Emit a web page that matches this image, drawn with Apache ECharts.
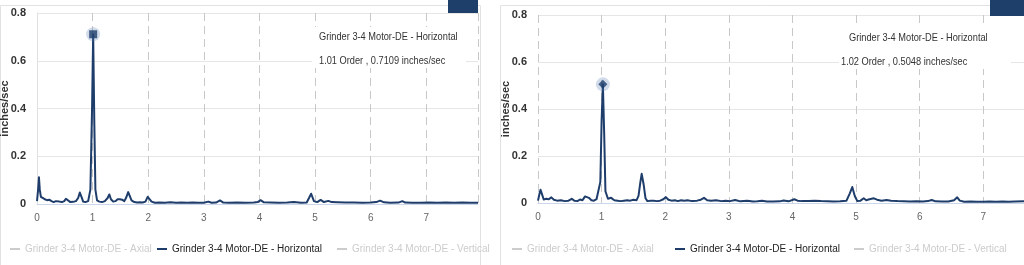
<!DOCTYPE html>
<html><head><meta charset="utf-8">
<script src="https://cdn.jsdelivr.net/npm/echarts@6/dist/echarts.min.js"></script>
<style>html,body{margin:0;padding:0;background:#fff}#c{width:1024px;height:265px}</style>
</head><body><div id="c"></div>
<script>
// ---- data ----
const seriesNames = ['Grinder 3-4 Motor-DE - Axial', 'Grinder 3-4 Motor-DE - Horizontal', 'Grinder 3-4 Motor-DE - Vertical'];
const yTicks = [0, 0.2, 0.4, 0.6, 0.8];
const xTickLabels = ['0', '1', '2', '3', '4', '5', '6', '7'];
const yAxisTitle = 'inches/sec';

// Left panel spectrum (order, inches/sec)
const leftOrders = [0.00,0.02,0.035,0.05,0.07,0.10,0.14,0.18,0.22,0.26,0.30,0.34,0.37,0.40,0.45,0.49,0.52,0.55,0.60,0.65,0.70,0.74,0.77,0.80,0.83,0.87,0.92,0.96,0.99,1.01,1.03,1.05,1.08,1.12,1.17,1.22,1.27,1.30,1.33,1.37,1.41,1.45,1.49,1.53,1.57,1.60,1.64,1.67,1.70,1.75,1.80,1.85,1.90,1.95,1.99,2.02,2.06,2.12,2.2,2.3,2.4,2.5,2.6,2.7,2.8,2.9,3.0,3.08,3.14,3.22,3.29,3.35,3.45,3.6,3.75,3.9,3.97,4.02,4.08,4.2,4.35,4.5,4.62,4.75,4.85,4.93,4.98,5.04,5.1,5.16,5.24,5.3,5.4,5.55,5.7,5.85,6.0,6.1,6.17,6.24,6.35,6.5,6.57,6.62,6.75,6.9,7.05,7.2,7.35,7.5,7.65,7.8,7.93];
const leftValues = [0.012,0.06,0.112,0.06,0.03,0.022,0.02,0.016,0.018,0.012,0.008,0.012,0.015,0.01,0.008,0.012,0.022,0.015,0.008,0.009,0.012,0.025,0.048,0.03,0.01,0.008,0.012,0.06,0.4,0.7109,0.35,0.06,0.015,0.01,0.008,0.012,0.025,0.04,0.02,0.01,0.012,0.02,0.02,0.018,0.012,0.025,0.05,0.045,0.015,0.008,0.006,0.007,0.006,0.01,0.03,0.025,0.01,0.005,0.006,0.005,0.007,0.005,0.006,0.005,0.006,0.005,0.005,0.01,0.005,0.006,0.015,0.006,0.005,0.006,0.005,0.006,0.008,0.016,0.007,0.006,0.005,0.006,0.008,0.005,0.006,0.043,0.012,0.008,0.017,0.008,0.013,0.008,0.007,0.006,0.006,0.005,0.006,0.008,0.014,0.007,0.005,0.006,0.012,0.006,0.005,0.005,0.006,0.005,0.006,0.005,0.006,0.005,0.005];
const leftPeak = [1.01, 0.7109];
const leftNote = ['Grinder 3-4 Motor-DE - Horizontal', '1.01 Order , 0.7109 inches/sec'];

// Right panel spectrum
const rightOrders = [0.00,0.02,0.04,0.06,0.09,0.13,0.17,0.21,0.25,0.30,0.36,0.42,0.48,0.53,0.57,0.62,0.66,0.70,0.74,0.77,0.80,0.84,0.88,0.92,0.95,0.98,1.00,1.02,1.04,1.06,1.10,1.15,1.20,1.25,1.30,1.35,1.40,1.45,1.50,1.55,1.58,1.61,1.63,1.66,1.69,1.72,1.77,1.82,1.87,1.92,1.97,2.01,2.05,2.10,2.15,2.2,2.25,2.3,2.35,2.42,2.5,2.56,2.61,2.66,2.72,2.8,2.88,2.95,3.02,3.1,3.18,3.29,3.38,3.45,3.52,3.6,3.7,3.8,3.86,3.94,4.03,4.08,4.15,4.25,4.35,4.45,4.55,4.65,4.75,4.85,4.90,4.94,4.98,5.02,5.07,5.12,5.16,5.21,5.28,5.33,5.4,5.48,5.55,5.65,5.75,5.85,5.95,6.05,6.13,6.19,6.25,6.35,6.45,6.54,6.59,6.63,6.7,6.8,6.9,7.0,7.1,7.2,7.3,7.4,7.5,7.64];
const rightValues = [0.01,0.035,0.056,0.04,0.015,0.018,0.016,0.024,0.014,0.01,0.012,0.008,0.01,0.018,0.01,0.008,0.015,0.012,0.028,0.035,0.022,0.012,0.01,0.016,0.012,0.09,0.35,0.5048,0.3,0.05,0.018,0.022,0.012,0.01,0.008,0.01,0.012,0.01,0.014,0.012,0.03,0.09,0.124,0.08,0.02,0.008,0.01,0.01,0.008,0.01,0.016,0.025,0.014,0.01,0.012,0.008,0.012,0.01,0.012,0.008,0.01,0.014,0.022,0.012,0.01,0.012,0.008,0.01,0.008,0.013,0.007,0.01,0.006,0.007,0.01,0.006,0.006,0.007,0.011,0.007,0.016,0.01,0.008,0.009,0.01,0.008,0.007,0.006,0.007,0.01,0.04,0.068,0.03,0.008,0.01,0.02,0.012,0.016,0.02,0.014,0.01,0.013,0.01,0.008,0.007,0.006,0.007,0.006,0.008,0.013,0.007,0.006,0.006,0.012,0.024,0.01,0.005,0.006,0.005,0.005,0.006,0.005,0.006,0.005,0.006,0.007];
const rightPeak = [1.02, 0.5048];
const rightNote = ['Grinder 3-4 Motor-DE - Horizontal', '1.02 Order , 0.5048 inches/sec'];

// ---- styles ----
const NAVY = '#1e3d6b';
const FONT = "'Liberation Sans',Arial,sans-serif";

const pairs = (xs, ys) => xs.map((x, i) => [x, ys[i]]);

function xAxisFor(gi, max) {
  return {
    type: 'value', gridIndex: gi, min: 0, max: max, interval: 1,
    axisLine: {show: true, lineStyle: {color: '#ccd6eb', width: 1}},
    axisTick: {show: false},
    axisLabel: {show: true, color: '#666', fontSize: 10, fontFamily: FONT, margin: 9, showMaxLabel: false,
      formatter: v => (Number.isInteger(v) && xTickLabels[v] !== undefined) ? xTickLabels[v] : ''},
    splitLine: {show: true, lineStyle: {color: '#c8c8c8', type: [8, 5], width: 1}}
  };
}
function yAxisFor(gi, showLine) {
  return {
    type: 'value', gridIndex: gi, min: yTicks[0], max: yTicks[yTicks.length - 1], interval: 0.2,
    name: yAxisTitle, nameLocation: 'middle', nameGap: 27, nameRotate: 90, nameMoveOverlap: false,
    nameTextStyle: {color: '#333', fontSize: 11, fontWeight: 'bold', fontFamily: FONT},
    axisLine: {show: showLine, lineStyle: {color: '#e0e0e0'}},
    axisTick: {show: false},
    axisLabel: {color: '#333', fontSize: 11, fontWeight: 'bold', fontFamily: FONT, margin: 11},
    splitLine: {show: true, lineStyle: {color: '#e6e6e6', width: 1}}
  };
}
function lineSeries(name, gi, data) {
  return {
    name: name, type: 'line', xAxisIndex: gi, yAxisIndex: gi, data: data,
    showSymbol: false, symbol: 'none', smooth: false, animation: false,
    lineStyle: {color: NAVY, width: 2, join: 'round'}, itemStyle: {color: NAVY}, z: 3
  };
}
function legendFor(name, left) {
  return {
    data: [name], left: left, top: 244, padding: 0, itemWidth: 10, itemHeight: 2, icon: 'rect',
    inactiveColor: '#cccccc',
    selected: {[seriesNames[0]]: false, [seriesNames[1]]: true, [seriesNames[2]]: false},
    textStyle: {color: '#222', fontSize: 10, fontWeight: 'normal', fontFamily: FONT}
  };
}
function noteGraphic(x0, y0, x1, x2, lines, boxW) {
  return [
    {type: 'rect', left: x0, top: y0, shape: {width: boxW, height: 41}, style: {fill: '#fff'}, z: 10},
    {type: 'text', x: x1, y: y0 + 4, scaleX: 0.84, style: {text: lines[0], fill: '#333', font: '11px ' + FONT}, z: 11},
    {type: 'text', x: x2, y: y0 + 28, scaleX: 0.84, style: {text: lines[1], fill: '#333', font: '11px ' + FONT}, z: 11}
  ];
}

const option = {
  animation: false,
  grid: [
    {left: 37, top: 13, width: 441, bottom: 61, containLabel: false, outerBoundsMode: 'none'},
    {left: 538, top: 15, right: 0, bottom: 62, containLabel: false, outerBoundsMode: 'none'}
  ],
  xAxis: [xAxisFor(0, 7.93), xAxisFor(1, 7.64)],
  yAxis: [yAxisFor(0, true), yAxisFor(1, false)],
  legend: [
    legendFor(seriesNames[0], 10), legendFor(seriesNames[1], 157), legendFor(seriesNames[2], 337),
    legendFor(seriesNames[0], 512), legendFor(seriesNames[1], 675), legendFor(seriesNames[2], 854)
  ],
  series: [
    lineSeries(seriesNames[0], 0, []),
    lineSeries(seriesNames[1], 0, pairs(leftOrders, leftValues)),
    lineSeries(seriesNames[2], 0, []),
    lineSeries(seriesNames[0], 1, []),
    lineSeries(seriesNames[1], 1, pairs(rightOrders, rightValues)),
    lineSeries(seriesNames[2], 1, []),
    {type: 'scatter', name: 'haloL', xAxisIndex: 0, yAxisIndex: 0, data: [leftPeak], symbol: 'circle', symbolSize: 14,
     itemStyle: {color: 'rgba(90,125,175,0.35)'}, z: 4, silent: true},
    {type: 'scatter', name: 'markL', xAxisIndex: 0, yAxisIndex: 0, data: [leftPeak], symbol: 'rect', symbolSize: 8,
     itemStyle: {color: NAVY}, z: 5, silent: true},
    {type: 'scatter', name: 'haloR', xAxisIndex: 1, yAxisIndex: 1, data: [rightPeak], symbol: 'circle', symbolSize: 14,
     itemStyle: {color: 'rgba(90,125,175,0.35)'}, z: 4, silent: true},
    {type: 'scatter', name: 'markR', xAxisIndex: 1, yAxisIndex: 1, data: [rightPeak], symbol: 'diamond', symbolSize: 9,
     itemStyle: {color: NAVY}, z: 5, silent: true}
  ],
  graphic: [
    {type: 'rect', left: -2, top: 3, shape: {width: 480, height: 260}, style: {fill: 'none', stroke: '#e2e2e2', lineWidth: 1}, z: -1, silent: true},
    {type: 'rect', left: 498, top: 3, shape: {width: 540, height: 260}, style: {fill: 'none', stroke: '#e2e2e2', lineWidth: 1}, z: -1, silent: true},
    {type: 'rect', left: 448, top: 0, shape: {width: 30, height: 13}, style: {fill: '#1f3f6b'}, z: 12},
    {type: 'rect', left: 990, top: 0, shape: {width: 40, height: 16}, style: {fill: '#1f3f6b'}, z: 12},
    ...noteGraphic(312, 27, 319, 319, leftNote, 154),
    ...noteGraphic(839, 28, 849, 841, rightNote, 172)
  ]
};
const chart = echarts.init(document.getElementById('c'), null, {renderer: 'canvas'});
chart.setOption(option);
</script></body></html>
